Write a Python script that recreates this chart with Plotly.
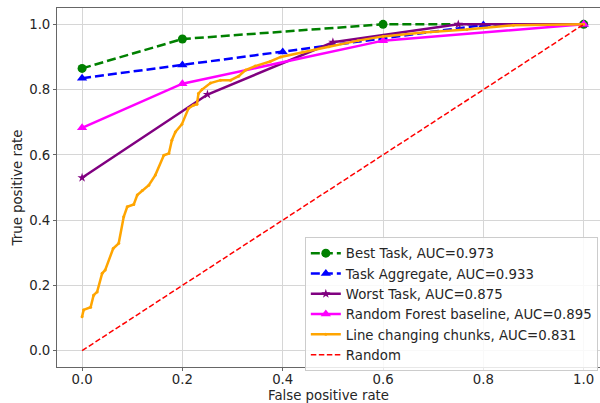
import plotly.graph_objects as go

# Best Task
fpr_best = [0.0, 0.2, 0.6, 1.0]
tpr_best = [0.865, 0.955, 1.0, 1.0]
# Task Aggregate
fpr_agg = [0.0, 0.2, 0.4, 0.6, 0.8, 1.0]
tpr_agg = [0.835, 0.875, 0.915, 0.957, 0.998, 1.0]
# Worst Task
fpr_worst = [0.0, 0.25, 0.5, 0.75, 1.0]
tpr_worst = [0.53, 0.785, 0.945, 1.0, 1.0]
# Random Forest baseline
fpr_rf = [0.0, 0.2, 0.6, 1.0]
tpr_rf = [0.683, 0.818, 0.95, 1.0]
# Line changing chunks
fpr_lcc = [0.0, 0.003, 0.017, 0.023, 0.03, 0.04, 0.046, 0.062, 0.073, 0.083, 0.09,
           0.103, 0.11, 0.12, 0.133, 0.146, 0.163, 0.173, 0.179, 0.186, 0.199, 0.212,
           0.222, 0.229, 0.232, 0.239, 0.256, 0.276, 0.296, 0.312, 0.326, 0.345, 0.375,
           0.396, 0.44, 0.492, 0.55, 0.6, 0.68, 0.767, 0.86, 1.0]
tpr_lcc = [0.104, 0.125, 0.133, 0.17, 0.18, 0.237, 0.247, 0.313, 0.329, 0.41, 0.441,
           0.448, 0.477, 0.491, 0.507, 0.538, 0.599, 0.604, 0.645, 0.670, 0.694, 0.742,
           0.752, 0.755, 0.788, 0.80, 0.82, 0.829, 0.829, 0.841, 0.86, 0.872, 0.886,
           0.90, 0.915, 0.931, 0.95, 0.963, 0.975, 0.984, 0.997, 1.0]
# Random
fpr_rand = [0.0, 1.0]
tpr_rand = [0.0, 1.0]

x_ticks = [0.0, 0.2, 0.4, 0.6, 0.8, 1.0]
y_ticks = [0.0, 0.2, 0.4, 0.6, 0.8, 1.0]

FONT = "DejaVu Sans"
FS = 13.3
TXT = "#262626"

fig = go.Figure()
fig.add_trace(go.Scatter(x=fpr_best, y=tpr_best, mode="lines+markers",
                         name="Best Task, AUC=0.973",
                         line=dict(color="#008000", width=2.5, dash="9px,4px"),
                         marker=dict(symbol="circle", size=9, color="#008000")))
fig.add_trace(go.Scatter(x=fpr_agg, y=tpr_agg, mode="lines+markers",
                         name="Task Aggregate, AUC=0.933",
                         line=dict(color="#0000ff", width=2.5, dash="9px,4px"),
                         marker=dict(symbol="triangle-up", size=9, color="#0000ff")))
fig.add_trace(go.Scatter(x=fpr_worst, y=tpr_worst, mode="lines+markers",
                         name="Worst Task, AUC=0.875",
                         line=dict(color="#800080", width=2.5),
                         marker=dict(symbol="star", size=7, color="#800080")))
fig.add_trace(go.Scatter(x=fpr_rf, y=tpr_rf, mode="lines+markers",
                         name="Random Forest baseline, AUC=0.895",
                         line=dict(color="#ff00ff", width=2.5),
                         marker=dict(symbol="triangle-up", size=9, color="#ff00ff")))
fig.add_trace(go.Scatter(x=fpr_lcc, y=tpr_lcc, mode="lines+markers",
                         name="Line changing chunks, AUC=0.831",
                         line=dict(color="#ffa500", width=2.5),
                         marker=dict(symbol="circle", size=3, color="#ffa500")))
fig.add_trace(go.Scatter(x=fpr_rand, y=tpr_rand, mode="lines",
                         name="Random",
                         line=dict(color="#ff0000", width=1.5, dash="5.5px,2.5px")))

axis_common = dict(
    showgrid=True, gridcolor="#d6d6d6", gridwidth=1,
    zeroline=False, showline=True, linecolor="#666666", linewidth=1,
    ticks="outside", ticklen=3, tickcolor="#666666",
    tickfont=dict(family=FONT, size=FS, color=TXT),
    tickformat=".1f", automargin=False,
)

fig.update_layout(
    width=600, height=403,
    margin=dict(l=57, r=0, t=8, b=36),
    paper_bgcolor="white", plot_bgcolor="white",
    font=dict(family=FONT, size=FS, color=TXT),
    xaxis=dict(range=[-0.05, 1.0325], tickvals=x_ticks, mirror=True,
               ticklabelstandoff=-3,
               title=dict(text="False positive rate", standoff=5,
                          font=dict(family=FONT, size=FS, color=TXT)),
               **axis_common),
    yaxis=dict(range=[-0.05, 1.05], tickvals=y_ticks, mirror=False,
               title=dict(text="True positive rate", standoff=3,
                          font=dict(family=FONT, size=FS, color=TXT)),
               **axis_common),
    legend=dict(x=0.996, y=0.362, xanchor="right", yanchor="top",
                bgcolor="rgba(255,255,255,0.85)", bordercolor="#cccccc", borderwidth=1,
                font=dict(family=FONT, size=FS, color=TXT),
                tracegroupgap=0, itemwidth=30),
    showlegend=True,
)

fig.write_html("out.html")
